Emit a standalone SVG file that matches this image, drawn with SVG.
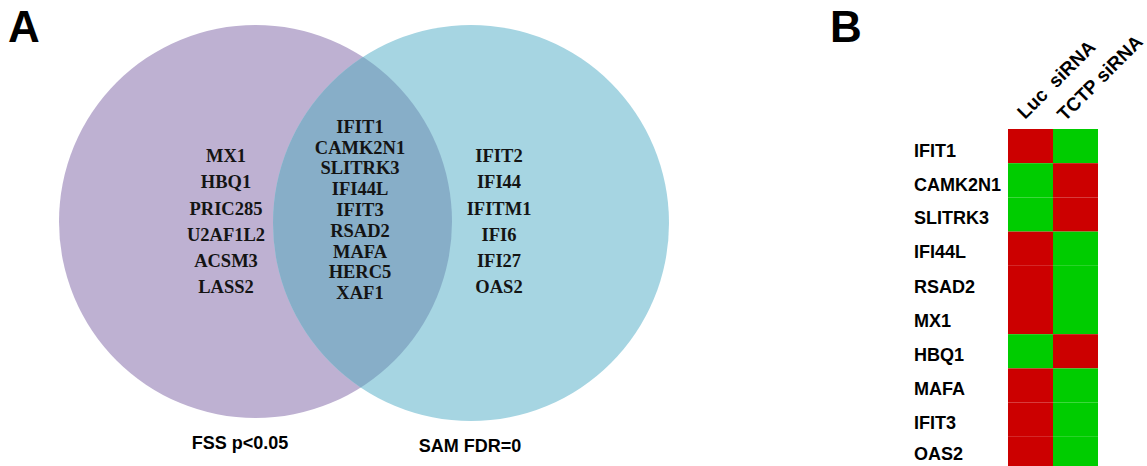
<svg xmlns="http://www.w3.org/2000/svg" width="1147" height="466" viewBox="0 0 1147 466">
<style>
.panel{font-family:"Liberation Sans",Arial,sans-serif;font-weight:bold;font-size:44px;fill:#000}
.gene{font-family:"Liberation Serif","Times New Roman",serif;font-weight:bold;font-size:18.5px;fill:#141414;text-anchor:middle}
.lab{font-family:"Liberation Sans",Arial,sans-serif;font-weight:bold;font-size:18px;fill:#000}
.rot{font-size:19px}
.mid{text-anchor:middle}
.r{fill:#CC0000}
.g{fill:#00CC00}
</style>
<defs>
<clipPath id="clipP"><circle cx="255.5" cy="221.5" r="196.5"/></clipPath>
</defs>
<rect width="1147" height="466" fill="#fff"/>
<text class="panel" x="8" y="42">A</text>
<text class="panel" x="830" y="42">B</text>
<g id="venn">
<g id="set-fss">
<circle cx="255.5" cy="221.5" r="196.5" fill="#BEB1D2"/>
</g>
<g id="set-sam">
<circle cx="471" cy="223" r="198" fill="#A6D5E2"/>
</g>
<g id="overlap">
<circle cx="471" cy="223" r="198" fill="#87AEC8" clip-path="url(#clipP)"/>
</g>
</g>
<g id="left-genes">
<text class="gene" x="226" y="162.3">MX1</text>
<text class="gene" x="226" y="188.4">HBQ1</text>
<text class="gene" x="226" y="214.5">PRIC285</text>
<text class="gene" x="226" y="240.6">U2AF1L2</text>
<text class="gene" x="226" y="266.7">ACSM3</text>
<text class="gene" x="226" y="292.8">LASS2</text>
</g>
<g id="shared-genes">
<text class="gene" x="360" y="132.7">IFIT1</text>
<text class="gene" x="360" y="153.5">CAMK2N1</text>
<text class="gene" x="360" y="174.3">SLITRK3</text>
<text class="gene" x="360" y="195.1">IFI44L</text>
<text class="gene" x="360" y="215.9">IFIT3</text>
<text class="gene" x="360" y="236.7">RSAD2</text>
<text class="gene" x="360" y="257.5">MAFA</text>
<text class="gene" x="360" y="278.3">HERC5</text>
<text class="gene" x="360" y="299.1">XAF1</text>
</g>
<g id="right-genes">
<text class="gene" x="499" y="162.3">IFIT2</text>
<text class="gene" x="499" y="188.4">IFI44</text>
<text class="gene" x="499" y="214.5">IFITM1</text>
<text class="gene" x="499" y="240.6">IFI6</text>
<text class="gene" x="499" y="266.7">IFI27</text>
<text class="gene" x="499" y="292.8">OAS2</text>
</g>
<g id="set-labels">
<text class="lab mid" x="240" y="449">FSS p&lt;0.05</text>
<text class="lab mid" x="470" y="452">SAM FDR=0</text>
</g>
<g id="heatmap">
<g id="col-labels">
<text class="lab rot" transform="translate(1025,120) rotate(-45)" xml:space="preserve">Luc  siRNA</text>
<text class="lab rot" transform="translate(1065,122) rotate(-45)">TCTP siRNA</text>
</g>
<g id="cells">
<rect class="r" x="1008" y="129" width="45" height="34.2"/><rect class="g" x="1053" y="129" width="45" height="34.2"/>
<rect class="g" x="1008" y="163.2" width="45" height="34.2"/><rect class="r" x="1053" y="163.2" width="45" height="34.2"/>
<rect class="g" x="1008" y="197.4" width="45" height="34.2"/><rect class="r" x="1053" y="197.4" width="45" height="34.2"/>
<rect class="r" x="1008" y="231.6" width="45" height="34.2"/><rect class="g" x="1053" y="231.6" width="45" height="34.2"/>
<rect class="r" x="1008" y="265.8" width="45" height="34.2"/><rect class="g" x="1053" y="265.8" width="45" height="34.2"/>
<rect class="r" x="1008" y="300" width="45" height="34.2"/><rect class="g" x="1053" y="300" width="45" height="34.2"/>
<rect class="g" x="1008" y="334.2" width="45" height="34.2"/><rect class="r" x="1053" y="334.2" width="45" height="34.2"/>
<rect class="r" x="1008" y="368.4" width="45" height="34.2"/><rect class="g" x="1053" y="368.4" width="45" height="34.2"/>
<rect class="r" x="1008" y="402.6" width="45" height="34.2"/><rect class="g" x="1053" y="402.6" width="45" height="34.2"/>
<rect class="r" x="1008" y="436.8" width="45" height="34.2"/><rect class="g" x="1053" y="436.8" width="45" height="34.2"/>
</g>
<g id="row-labels">
<text class="lab" x="914" y="157">IFIT1</text>
<text class="lab" x="914" y="191.4">CAMK2N1</text>
<text class="lab" x="914" y="224">SLITRK3</text>
<text class="lab" x="914" y="258.3">IFI44L</text>
<text class="lab" x="914" y="293.3">RSAD2</text>
<text class="lab" x="914" y="327">MX1</text>
<text class="lab" x="914" y="360.7">HBQ1</text>
<text class="lab" x="914" y="395">MAFA</text>
<text class="lab" x="914" y="429">IFIT3</text>
<text class="lab" x="914" y="460">OAS2</text>
</g>
</g>
</svg>
